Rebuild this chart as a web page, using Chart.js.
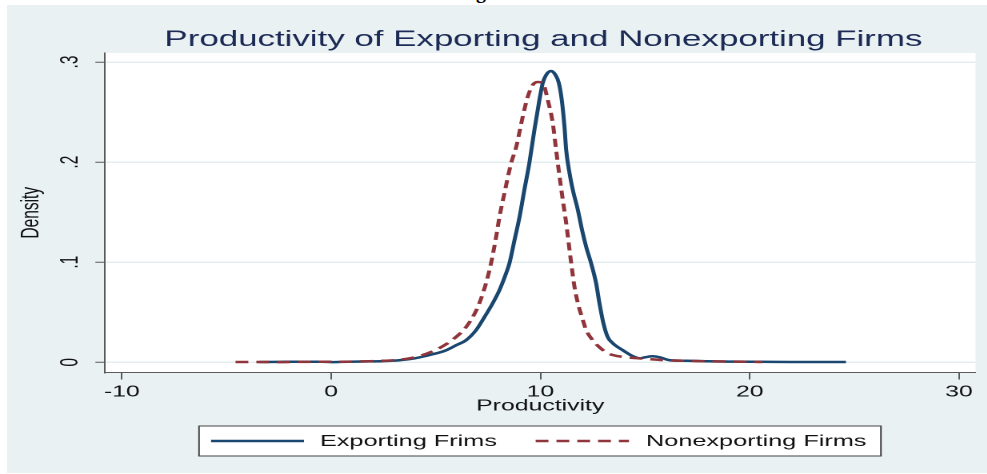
<!DOCTYPE html>
<html><head><meta charset="utf-8">
<script src="https://cdn.jsdelivr.net/npm/chart.js@4.4.1/dist/chart.umd.min.js"></script>
<style>
html,body{margin:0;padding:0;background:#fff;width:987px;height:474px;overflow:hidden;}
#cap{position:absolute;left:476px;top:-19px;font:bold 20px "Liberation Serif",serif;line-height:1;color:#000;z-index:0;}
#panel{position:absolute;left:7px;top:5px;width:980px;height:468px;background:#e9f1f3;z-index:1;}
#wrap{position:absolute;left:0;top:0;width:617px;height:474px;transform:scaleX(1.6);transform-origin:0 0;z-index:2;}
</style></head><body>
<div id="cap">g</div>
<div id="panel"></div>
<div id="wrap"><canvas id="c" width="617" height="474"></canvas></div>
<script>
const titleText = 'Productivity of Exporting and Nonexporting Firms';
const xAxisTitle = 'Productivity';
const yAxisTitle = 'Density';
const seriesNames = ['Exporting Frims', 'Nonexporting Firms'];
const xTickValues = [-10, 0, 10, 20, 30];
const xTickLabels = ['-10', '0', '10', '20', '30'];
const yTickValues = [0, 0.1, 0.2, 0.3];
const yTickLabels = ['0', '.1', '.2', '.3'];

const exportingX = [-3.45, -2.5, -1.5, -0.5, 0, 0.5, 1.5, 2.5, 3.25, 4.0, 4.85, 5.49, 5.97, 6.44, 6.92, 7.32, 7.72, 8.04, 8.36, 8.52, 8.76, 9.0, 9.23, 9.47, 9.71, 9.95, 10.11, 10.27, 10.51, 10.72, 10.88, 11.02, 11.15, 11.23, 11.39, 11.55, 11.79, 11.99, 12.19, 12.42, 12.66, 12.82, 13.01, 13.22, 13.46, 13.94, 14.42, 14.74, 15.0, 15.36, 15.7, 16.2, 17, 18, 19, 20, 21, 22, 23, 24.6];
const exportingY = [0.0003, 0.0004, 0.0006, 0.0005, 0.0002, 0.0004, 0.0008, 0.0012, 0.002, 0.004, 0.008, 0.012, 0.017, 0.022, 0.032, 0.045, 0.059, 0.072, 0.089, 0.099, 0.122, 0.145, 0.172, 0.199, 0.232, 0.262, 0.279, 0.287, 0.291, 0.287, 0.279, 0.262, 0.235, 0.212, 0.189, 0.172, 0.152, 0.132, 0.115, 0.099, 0.079, 0.059, 0.039, 0.025, 0.019, 0.012, 0.006, 0.004, 0.005, 0.006, 0.005, 0.002, 0.0015, 0.001, 0.0007, 0.0006, 0.0004, 0.0003, 0.0003, 0.0003];

const nonexportingX = [-4.57, -3.5, -2.5, -1.5, -0.5, 0.5, 1.5, 2.5, 3.25, 4.0, 4.85, 5.49, 6.12, 6.44, 6.84, 7.08, 7.4, 7.64, 7.88, 8.04, 8.28, 8.6, 8.84, 9.15, 9.39, 9.63, 9.87, 10.11, 10.35, 10.59, 10.75, 10.91, 11.07, 11.23, 11.47, 11.63, 11.79, 12.03, 12.19, 12.5, 12.82, 13.14, 13.5, 14.1, 15, 16, 17, 18, 19, 20.6];
const nonexportingY = [0.0003, 0.0003, 0.0002, 0.0004, 0.0005, 0.0006, 0.0009, 0.0015, 0.0025, 0.005, 0.011, 0.018, 0.028, 0.035, 0.048, 0.059, 0.079, 0.099, 0.125, 0.145, 0.169, 0.199, 0.215, 0.245, 0.265, 0.277, 0.280, 0.279, 0.262, 0.239, 0.212, 0.186, 0.162, 0.139, 0.099, 0.075, 0.059, 0.042, 0.032, 0.022, 0.015, 0.010, 0.007, 0.005, 0.0035, 0.002, 0.0015, 0.001, 0.0007, 0.0003];

const toPoints = (xs, ys) => xs.map((x, i) => ({x: x, y: ys[i]}));
const FONT = '"Liberation Sans", Arial, sans-serif';

const decor = {
  id: 'decor',
  beforeDraw(chart) {
    const {ctx, chartArea: a} = chart;
    ctx.save();
    ctx.fillStyle = '#ffffff';
    ctx.fillRect(a.left, a.top, a.right - a.left, a.bottom - a.top);
    ctx.restore();
  },
  afterDraw(chart) {
    const {ctx, chartArea: a} = chart;
    const ys = chart.scales.y;
    ctx.save();
    // title
    ctx.font = '21.8px ' + FONT;
    ctx.fillStyle = '#1c2a55';
    ctx.textAlign = 'center';
    ctx.textBaseline = 'alphabetic';
    ctx.fillText(titleText, (a.left + a.right) / 2 + 2, 46);
    // rotated y tick labels
    ctx.font = '15.5px ' + FONT;
    ctx.fillStyle = '#111';
    ctx.textBaseline = 'middle';
    yTickValues.forEach((v, i) => {
      const py = ys.getPixelForValue(v);
      ctx.save();
      ctx.translate(44.4, py);
      ctx.rotate(-Math.PI / 2);
      ctx.fillText(yTickLabels[i], 0, 0);
      ctx.restore();
    });
    // legend
    const L = 124.4, T = 426, W = 426.2, H = 30, cy = T + H / 2;
    ctx.fillStyle = '#ffffff';
    ctx.fillRect(L, T, W, H);
    ctx.strokeStyle = '#444';
    ctx.lineWidth = 1;
    ctx.strokeRect(L, T, W, H);
    const items = [
      {x0: 131.9, x1: 190, tx: 200},
      {x0: 334.8, x1: 393.1, tx: 403.75}
    ];
    chart.data.datasets.forEach((ds, i) => {
      const it = items[i];
      ctx.beginPath();
      ctx.setLineDash(ds.borderDash || []);
      ctx.strokeStyle = ds.borderColor;
      ctx.lineWidth = ds.borderWidth;
      ctx.moveTo(it.x0, cy);
      ctx.lineTo(it.x1, cy);
      ctx.stroke();
      ctx.setLineDash([]);
      ctx.font = '15.8px ' + FONT;
      ctx.fillStyle = '#111';
      ctx.textAlign = 'left';
      ctx.textBaseline = 'middle';
      ctx.fillText(ds.label, it.tx, cy + 0.5);
    });
    ctx.restore();
  }
};

new Chart(document.getElementById('c'), {
  type: 'line',
  data: {
    datasets: [
      {label: seriesNames[0], data: toPoints(exportingX, exportingY), borderColor: '#1a476f', borderWidth: 2.5, pointRadius: 0, cubicInterpolationMode: 'monotone', fill: false, order: 1},
      {label: seriesNames[1], data: toPoints(nonexportingX, nonexportingY), borderColor: '#90353b', borderWidth: 2.5, borderDash: [8, 5], pointRadius: 0, cubicInterpolationMode: 'monotone', fill: false, order: 0}
    ]
  },
  options: {
    responsive: false,
    animation: false,
    devicePixelRatio: 2,
    layout: {padding: {left: 0, top: 53, right: 7.3, bottom: 58.4}},
    plugins: {legend: {display: false}, tooltip: {enabled: false}, title: {display: false}},
    scales: {
      x: {
        type: 'linear', min: -10.81, max: 30.79,
        afterBuildTicks: s => { s.ticks = xTickValues.map(v => ({value: v})); },
        afterFit: s => { s.height = 43.1; },
        grid: {drawOnChartArea: false, drawTicks: true, tickLength: 7, tickColor: '#5a5a5a', lineWidth: 1},
        border: {display: true, color: '#5a5a5a', width: 1},
        ticks: {
          callback: (v) => { const i = xTickValues.indexOf(v); return i >= 0 ? xTickLabels[i] : ''; },
          font: {family: FONT, size: 15.5}, color: '#111', padding: 3.5, maxRotation: 0, autoSkip: false
        },
        title: {display: true, text: xAxisTitle, font: {family: FONT, size: 15.5}, color: '#111', padding: {top: 0, bottom: 0}}
      },
      y: {
        type: 'linear', min: -0.0102, max: 0.309,
        afterBuildTicks: s => { s.ticks = yTickValues.map(v => ({value: v})); },
        afterFit: s => { s.width = 65.6; },
        grid: {color: '#e4edf0', lineWidth: 1.5, drawTicks: true, tickLength: 6, tickColor: '#5a5a5a', tickWidth: 1},
        border: {display: true, color: '#5a5a5a', width: 1},
        ticks: {display: false},
        title: {display: true, text: yAxisTitle, font: {family: FONT, size: 15.5}, color: '#111', padding: {top: 10.5, bottom: 0}}
      }
    }
  },
  plugins: [decor]
});
</script></body></html>
